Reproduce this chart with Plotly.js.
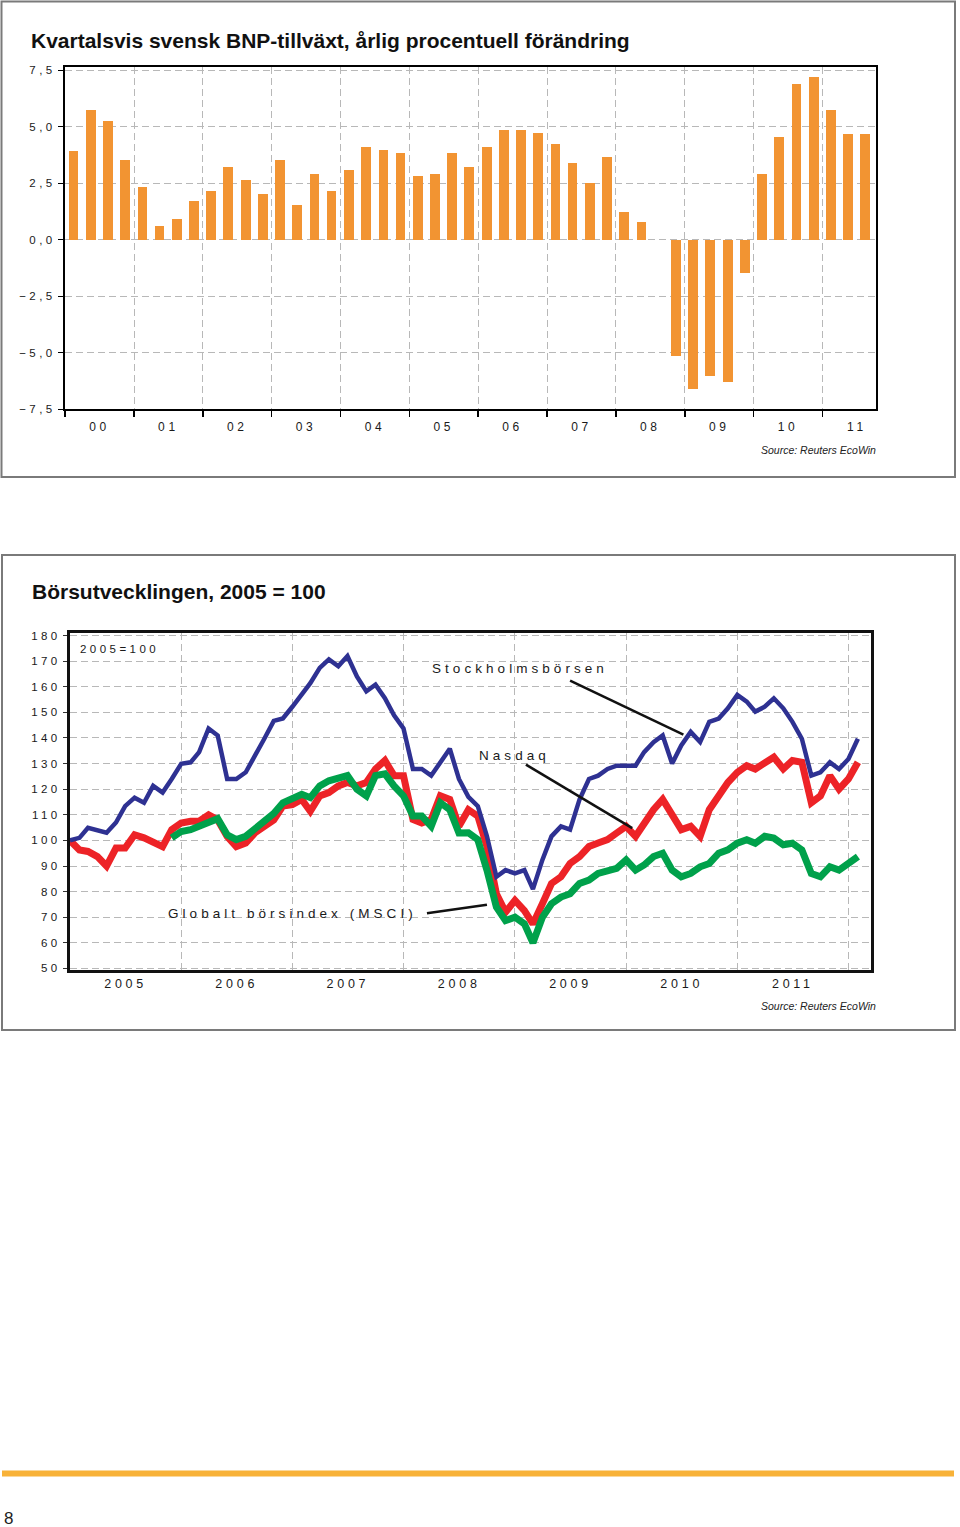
<!DOCTYPE html>
<html>
<head>
<meta charset="utf-8">
<script src="https://cdn.plot.ly/plotly-3.0.1.min.js"></script>
<style>
  body { margin: 0; background: #fff; }
  #plot { width: 960px; height: 1527px; }
  /* chart texts in the original are stretched wide */
  text[style*="Helvetica"] { letter-spacing: 0.3em; }
</style>
</head>
<body>
<div id="plot"></div>
<script>
// BNP-tillväxt, årlig procentuell förändring, kvartal 2000 Q1 - 2011 Q3
const gdpGrowth = [
  3.95, 5.73, 5.28, 3.51,   // 2000
  2.33, 0.62, 0.92, 1.71,   // 2001
  2.17, 3.22, 2.64, 2.02,   // 2002
  3.52, 1.55, 2.92, 2.17,   // 2003
  3.08, 4.11, 3.96, 3.82,   // 2004
  2.80, 2.92, 3.82, 3.24,   // 2005
  4.11, 4.86, 4.86, 4.71,   // 2006
  4.25, 3.38, 2.50, 3.67,   // 2007
  1.24, 0.78, 0.00, -5.15,  // 2008
  -6.61, -6.02, -6.32, -1.48, // 2009
  2.92, 4.55, 6.91, 7.21,   // 2010
  5.73, 4.69, 4.69          // 2011
];
const gdpStartYear = 2000;
const quarterMid = ['-02-15', '-05-16', '-08-16', '-11-15'];

// Börsutveckling, månadsvis från jan 2005 (2005 = 100)
const monthStart = 2005;
const stockholm = [
  100, 101, 104.9, 104, 103, 107, 113.4, 116.7, 114.7, 121.3, 118.7, 124,
  129.9, 130.5, 134.5, 143.7, 141, 124, 124, 126.6, 133, 139.7, 146.7, 147.6,
  152.2, 156.8, 161.4, 167.4, 170.7, 168, 172, 164, 158.2, 160.8, 155.5, 148.9,
  143.7, 127.9, 127.9, 125.3, 130.5, 135.8, 124, 117, 113.4, 101.6, 85.8, 88.4,
  87.1, 88.4, 81, 92.4, 101.6, 105.5, 104.2, 116, 124, 125.3, 127.9, 129.2,
  129.2, 129.2, 134.5, 138.4, 141, 130, 137.1, 142.4, 138.4, 146.3, 147.6, 151.6,
  156.8, 154.2, 150.3, 152.2, 155.5, 151.6, 146.3, 139.7, 125.3, 126.6, 130.5, 127.9,
  131.8, 139.7
];
const nasdaq = [
  100, 96.3, 95.7, 93.7, 90, 97, 97, 102.2, 101, 99.6, 97.6, 104.2,
  106.8, 107.5, 107.5, 110, 108, 101.6, 97.6, 99, 103, 105.5, 108, 113.4,
  114, 116, 111.4, 117.4, 118.7, 121.3, 122.6, 121.3, 122.6, 127.9, 131.2, 125.3,
  125.3, 108.2, 106.8, 108.2, 117.4, 116, 105.5, 112, 109.5, 97.6, 79.2, 72,
  76.6, 72.6, 67.4, 75.3, 83.2, 85.8, 91, 93.7, 97.6, 99, 100.3, 102.9,
  105.5, 101.6, 106.8, 112, 116, 109.5, 104.2, 105.5, 101.6, 112, 117.4, 122.6,
  126.6, 129.2, 127.9, 130.5, 132.5, 127.9, 131.2, 130.5, 114.7, 117.4, 125.3, 120,
  124, 130.5
];
const msci = [
  null, null, null, null, null, null, null, null, null, null, null, 101,
  103.5, 104.2, 105.5, 106.8, 108.5, 102.2, 100.3, 101.6, 104.9, 107.5, 110.5, 114.7,
  116, 118, 116.7, 121.3, 123.3, 124, 125.3, 120, 117.4, 125.3, 126, 121.3,
  117.4, 109.5, 109.5, 105.5, 114.7, 112, 102.9, 103, 100.3, 88.4, 74, 68.7,
  70, 67.4, 60, 70, 75.3, 77.9, 79.2, 83.2, 84.5, 87.1, 88.4, 89.1,
  92.4, 88.4, 90.4, 93.7, 95, 88.4, 85.8, 87.1, 89.7, 91, 95, 96.3,
  98.9, 100.3, 98.9, 101.6, 100.9, 98.3, 98.9, 96.3, 87.1, 85.8, 89.7, 88.4,
  91, 93.7
];

const gdpQuarters = gdpGrowth.map((v, i) => (gdpStartYear + Math.floor(i / 4)) + quarterMid[i % 4]);
const months = stockholm.map((v, i) => {
  const y = monthStart + Math.floor(i / 12);
  const m = (i % 12) + 1;
  return y + '-' + String(m).padStart(2, '0') + '-01';
});

// page pixel -> paper coordinates (margins are zero)
const W = 960, H = 1527;
const px = v => v / W;
const py = v => 1 - v / H;

const chartFont = 'Helvetica, Liberation Sans';
const textFont = 'Liberation Sans';
const gridDash = '7px,4px';

const data = [
  {
    type: 'bar', x: gdpQuarters, y: gdpGrowth,
    width: 52 * 86400000,
    marker: {color: '#f29432', line: {width: 0}},
    xaxis: 'x', yaxis: 'y', hoverinfo: 'x+y'
  },
  {
    type: 'scatter', mode: 'lines', name: 'Nasdaq',
    x: months, y: nasdaq, line: {color: '#ed2327', width: 7},
    xaxis: 'x2', yaxis: 'y2'
  },
  {
    type: 'scatter', mode: 'lines', name: 'Globalt börsindex (MSCI)',
    x: months, y: msci, line: {color: '#00a14b', width: 7},
    xaxis: 'x2', yaxis: 'y2'
  },
  {
    type: 'scatter', mode: 'lines', name: 'Stockholmsbörsen',
    x: months, y: stockholm, line: {color: '#2e3192', width: 4.5},
    xaxis: 'x2', yaxis: 'y2'
  }
];

const layout = {
  width: W, height: H,
  margin: {l: 0, r: 0, t: 0, b: 0},
  paper_bgcolor: '#fff', plot_bgcolor: '#fff',
  separators: ',.',
  showlegend: false,
  bargap: 0,
  font: {family: chartFont, size: 11, color: '#1a1a1a'},
  xaxis: {
    type: 'date', domain: [px(65), px(876)], anchor: 'y',
    range: ['2000-01-01', '2011-10-12'],
    tick0: '2000-01-01', dtick: 'M12', tickformat: '%y', ticklabelmode: 'period',
    ticks: 'outside', ticklen: 6, tickwidth: 1.5, tickcolor: '#000',
    showgrid: true, gridcolor: '#b8b8b8', griddash: gridDash, gridwidth: 1,
    showline: true, linecolor: '#000', linewidth: 2, mirror: true,
    tickfont: {family: chartFont, size: 12}
  },
  yaxis: {
    domain: [py(409), py(67)], anchor: 'x',
    range: [-7.5, 7.65], tick0: -7.5, dtick: 2.5, tickformat: '.1f',
    ticks: 'outside', ticklen: 5, tickwidth: 1, tickcolor: '#000',
    showgrid: true, gridcolor: '#b8b8b8', griddash: gridDash, gridwidth: 1,
    zeroline: false,
    showline: true, linecolor: '#000', linewidth: 2, mirror: true,
    tickfont: {family: chartFont, size: 11.5}
  },
  xaxis2: {
    type: 'date', domain: [px(70), px(871)], anchor: 'y2',
    range: ['2005-01-01', '2012-03-15'],
    tick0: '2005-01-01', dtick: 'M12', tickformat: '%Y', ticklabelmode: 'period',
    ticks: '',
    showgrid: true, gridcolor: '#b8b8b8', griddash: gridDash, gridwidth: 1,
    showline: true, linecolor: '#111', linewidth: 3, mirror: true,
    tickfont: {family: chartFont, size: 12.5}
  },
  yaxis2: {
    domain: [py(970), py(633)], anchor: 'x2',
    range: [49.4, 181], tick0: 50, dtick: 10,
    ticks: 'outside', ticklen: 4, tickwidth: 1, tickcolor: '#333',
    showgrid: true, gridcolor: '#b8b8b8', griddash: gridDash, gridwidth: 1,
    zeroline: false,
    showline: true, linecolor: '#111', linewidth: 3, mirror: true,
    tickfont: {family: chartFont, size: 11.5}
  },
  shapes: [
    // panel frames
    {type: 'rect', xref: 'paper', yref: 'paper', x0: px(1.5), x1: px(955), y0: py(1.5), y1: py(477),
     line: {color: '#7a7a7a', width: 2}, fillcolor: 'rgba(0,0,0,0)', layer: 'below'},
    {type: 'rect', xref: 'paper', yref: 'paper', x0: px(2), x1: px(955), y0: py(555), y1: py(1030),
     line: {color: '#7a7a7a', width: 2}, fillcolor: 'rgba(0,0,0,0)', layer: 'below'},
    // orange rule at page foot
    {type: 'rect', xref: 'paper', yref: 'paper', x0: px(2), x1: px(954), y0: py(1476.5), y1: py(1470.5),
     line: {width: 0}, fillcolor: '#f8b238'},
    // pointer lines to series
    {type: 'line', xref: 'x2', yref: 'y2', x0: '2009-07-01', y0: 162.4, x1: '2010-07-08', y1: 141.3,
     line: {color: '#111', width: 2.5}},
    {type: 'line', xref: 'x2', yref: 'y2', x0: '2009-02-06', y0: 129.6, x1: '2010-01-21', y1: 104.8,
     line: {color: '#111', width: 2.5}},
    {type: 'line', xref: 'x2', yref: 'y2', x0: '2008-03-18', y0: 71.6, x1: '2008-10-01', y1: 74.9,
     line: {color: '#111', width: 2.5}}
  ],
  annotations: [
    {text: 'Kvartalsvis svensk BNP-tillväxt, årlig procentuell förändring',
     xref: 'paper', yref: 'paper', x: px(29), y: py(40), xanchor: 'left', yanchor: 'middle', showarrow: false,
     font: {family: textFont, size: 21, weight: 'bold', color: '#111'}},
    {text: 'Source: Reuters EcoWin',
     xref: 'paper', yref: 'paper', x: px(878), y: py(450), xanchor: 'right', yanchor: 'middle', showarrow: false,
     font: {family: textFont, size: 10.5, style: 'italic', color: '#222'}},
    {text: 'Börsutvecklingen, 2005 = 100',
     xref: 'paper', yref: 'paper', x: px(30), y: py(592), xanchor: 'left', yanchor: 'middle', showarrow: false,
     font: {family: textFont, size: 21, weight: 'bold', color: '#111'}},
    {text: 'Source: Reuters EcoWin',
     xref: 'paper', yref: 'paper', x: px(878), y: py(1006), xanchor: 'right', yanchor: 'middle', showarrow: false,
     font: {family: textFont, size: 10.5, style: 'italic', color: '#222'}},
    {text: '2005=100',
     xref: 'paper', yref: 'paper', x: px(78), y: py(649), xanchor: 'left', yanchor: 'middle', showarrow: false,
     font: {family: chartFont, size: 11.5, color: '#1a1a1a'}},
    {text: 'Stockholmsbörsen',
     xref: 'paper', yref: 'paper', x: px(430), y: py(668), xanchor: 'left', yanchor: 'middle', showarrow: false,
     font: {family: chartFont, size: 13.5, color: '#1a1a1a'}},
    {text: 'Nasdaq',
     xref: 'paper', yref: 'paper', x: px(477), y: py(756), xanchor: 'left', yanchor: 'middle', showarrow: false,
     font: {family: chartFont, size: 13.5, color: '#1a1a1a'}},
    {text: 'Globalt börsindex (MSCI)',
     xref: 'paper', yref: 'paper', x: px(166), y: py(913), xanchor: 'left', yanchor: 'middle', showarrow: false,
     font: {family: chartFont, size: 13.5, color: '#1a1a1a'}},
    {text: '8',
     xref: 'paper', yref: 'paper', x: px(2), y: py(1518), xanchor: 'left', yanchor: 'middle', showarrow: false,
     font: {family: textFont, size: 17, color: '#222'}}
  ]
};

Plotly.newPlot('plot', data, layout, {staticPlot: true, displayModeBar: false});
</script>
</body>
</html>
